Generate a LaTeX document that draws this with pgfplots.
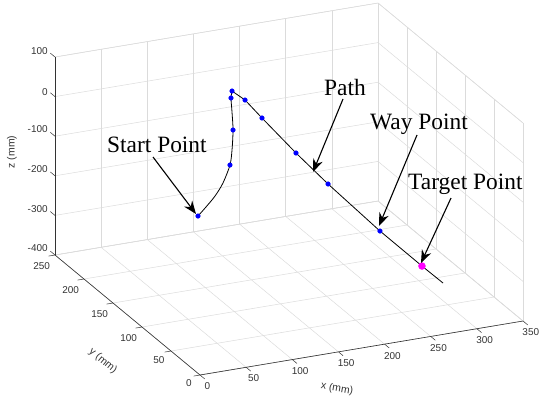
\documentclass[border=0pt]{standalone}
\usepackage{pgfplots}
\pgfplotsset{compat=1.18}
\usepackage{fontspec}
\setmainfont{Liberation Serif}
\newfontfamily\arial{Liberation Sans}
\usetikzlibrary{arrows.meta}
\definecolor{gridgray}{gray}{0.86}
\definecolor{axgray}{gray}{0.2}
\definecolor{mblue}{rgb}{0,0,1}
\definecolor{mmag}{rgb}{1,0,1}

\begin{document}
\begin{tikzpicture}
\begin{axis}[
    x={(0.9229bp,0.1543bp)},
    y={(-0.58bp,0.48bp)},
    z={(0bp,0.396bp)},
    xmin=0, xmax=350, ymin=0, ymax=250, zmin=-400, zmax=100,
    xtick={0,50,...,350}, ytick={0,50,...,250}, ztick={-400,-300,...,100},
    grid=major,
    major grid style={gridgray, line width=0.5bp},
    axis line style={gridgray, line width=0.5bp},
    tick style={draw=none},
    tick align=outside,
    major tick length=5bp,
    tick label style={font=\arial\fontsize{10}{12}\selectfont, text=axgray},
    /pgf/number format/assume math mode=true,
    clip=false,
]

% path: curved rise from the start point, then the straight run to the target
\addplot3[black, line width=0.8bp, smooth] coordinates {
    (128.55,208,-300.7) (137.2,208,-281.3) (147.0,208,-257.4) (155.6,208,-227.9)
    (163.2,208,-185.4) (165.4,208,-148.4) (166.5,208,-98.3) (165.4,208,-52.4)
    (164.3,208,-16.6) (165.4,208,0.6)
};
\addplot3[black, line width=0.8bp] coordinates {
    (165.4,208,0.6) (173.8,198.9,-14.4) (183.0,184.3,-45.7) (201.8,155.6,-106.6)
    (220.0,129.3,-160.1) (250.3,88,-240.6) (275.7,56,-300.1) (288.0,39.3,-327.5)
};

\addplot3[only marks, mark=*, mblue, mark size=2.3bp] coordinates {
    (128.55,208,-300.7) (163.2,208,-185.4) (166.5,208,-98.3) (164.3,208,-16.6)
    (165.4,208,0.6) (173.8,198.9,-14.4) (183.0,184.3,-45.7) (201.8,155.6,-106.6)
    (220.0,129.3,-160.1) (250.3,88,-240.6)
};
\addplot3[only marks, mark=*, mmag, mark size=3.5bp] coordinates {(275.7,56,-300.1)};

% dark axis lines and their outward ticks
\draw[axgray, line width=0.6bp] (axis cs:0,0,-400) -- (axis cs:350,0,-400);
\draw[axgray, line width=0.6bp] (axis cs:0,0,-400) -- (axis cs:0,250,-400);
\draw[axgray, line width=0.6bp] (axis cs:0,250,-400) -- (axis cs:0,250,100);
\pgfplotsinvokeforeach{0,50,...,350}{
  \draw[axgray, line width=0.5bp] (axis cs:#1,0,-400) -- (axis cs:#1,-8,-400);}
\pgfplotsinvokeforeach{0,50,...,250}{
  \draw[axgray, line width=0.5bp] (axis cs:0,#1,-400) -- (axis cs:-7,#1,-400);}
\pgfplotsinvokeforeach{-400,-300,...,100}{
  \draw[axgray, line width=0.5bp] (axis cs:0,250,#1) -- (axis cs:0,258,#1);}
\coordinate (O) at (axis cs:0,0,-400);
\end{axis}

% annotations in pixel coordinates of the reference
\begin{scope}[shift={(O)}, xshift=-200bp, yshift=375bp, x=1bp, y=-1bp]
\tikzset{lbl/.style={font=\arial\fontsize{10.5}{12}\selectfont, text=axgray, inner sep=0}}
\node[lbl, rotate=-9.5] at (337,389) {x (mm)};
\node[lbl, rotate=-39.6] at (103,361) {y (mm)};
\node[lbl, rotate=90] at (12,152) {z (mm)};

\tikzset{ann/.style={font=\fontsize{23.5}{24}\selectfont, anchor=base west, inner sep=0}}
\node[ann] at (107,152) {Start Point};
\node[ann] at (324,95) {Path};
\node[ann] at (370,129) {Way Point};
\node[ann] at (408,189) {Target Point};

\tikzset{arr/.style={-{Stealth[length=13bp,width=10bp]}, line width=1.1bp}}
\draw[arr] (153,157) -- (196,214);
\draw[arr] (343,99) -- (313,172);
\draw[arr] (417,135) -- (379,226);
\draw[arr] (451,198) -- (421,263);

\pgfresetboundingbox
\path (0,0) rectangle (555,400);
\end{scope}
\end{tikzpicture}
\end{document}
